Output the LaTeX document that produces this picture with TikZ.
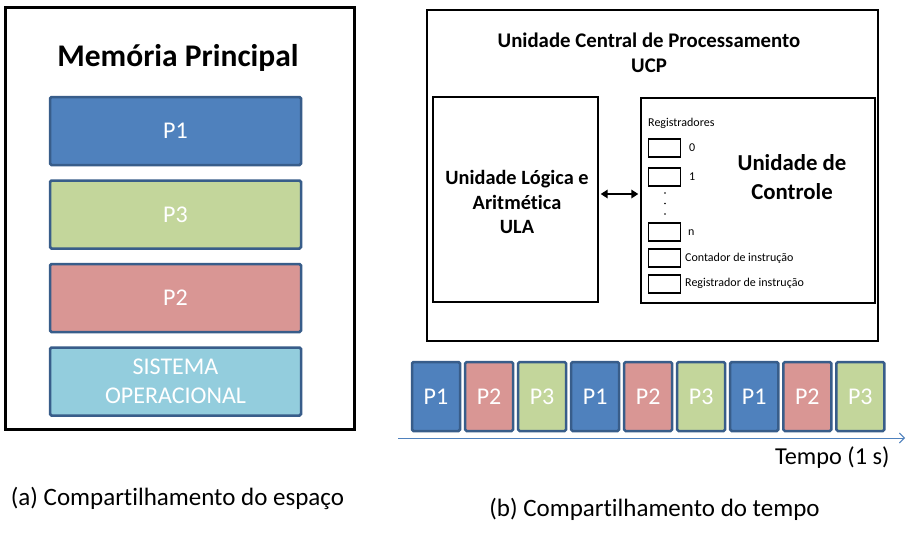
\documentclass[tikz,border=0pt]{standalone}
\usepackage{fontspec}
\setmainfont[Ligatures=NoCommon]{Carlito}
\usetikzlibrary{arrows.meta}
\definecolor{pborder}{HTML}{385D8A}
\definecolor{pone}{HTML}{4F81BD}
\definecolor{ptwo}{HTML}{D99694}
\definecolor{pthree}{HTML}{C3D69B}
\definecolor{psys}{HTML}{93CDDD}
\definecolor{axiscol}{HTML}{4F81BD}
\tikzset{
  fs/.style n args={2}{font=\fontsize{#1}{#2}\selectfont},
  fsb/.style n args={2}{font=\fontsize{#1}{#2}\selectfont\bfseries},
  memproc/.style={draw=pborder, line width=2.5pt, rounded corners=1.5pt, minimum width=251pt, minimum height=68pt, inner sep=0pt, text=white, fs={24}{29}, align=center},
  timeproc/.style={draw=pborder, line width=2.5pt, rounded corners=1.5pt, minimum width=48pt, minimum height=69pt, inner sep=0pt, text=white, fs={24}{29}},
  regbox/.style={draw=black, line width=1.1pt, minimum width=32pt, minimum height=18pt, inner sep=0pt, anchor=west},
  smalltxt/.style={fs={12}{14}, inner sep=0pt},
  cpubox/.style={draw=black, line width=1.4pt, inner sep=0pt},
}
\begin{document}
\begin{tikzpicture}[x=1pt,y=-1pt]
\useasboundingbox (0,0) rectangle (910,539);
\fill[white] (0,0) rectangle (910,539);

% (a) memory
\node[draw=black, line width=3pt, minimum width=349pt, minimum height=422pt, inner sep=0pt] (mem) at (179.5,218) {};
\node[fsb={31.5}{36}] (memtitle) at (178,58) {Memória Principal};
\node[memproc, fill=pone] (m1) at (175.5,131) {P1};
\node[memproc, fill=pthree] (m3) at (175.5,214.5) {P3};
\node[memproc, fill=ptwo] (m2) at (175.5,298) {P2};
\node[memproc, fill=psys] (mso) at (175.5,381.5) {SISTEMA\\OPERACIONAL};

% (b) CPU
\node[cpubox, minimum width=451pt, minimum height=331pt] (cpu) at (652.5,175.5) {};
\node[fsb={20.8}{25}, align=center] (cputitle) at (649,52.5) {Unidade Central de Processamento\\UCP};
\node[cpubox, minimum width=165pt, minimum height=205pt] (ula) at (515.5,199.5) {};
\node[fsb={20.3}{24.5}, align=center] (ulatxt) at (517,202) {Unidade Lógica e\\Aritmética\\ULA};
\node[cpubox, minimum width=234pt, minimum height=205pt] (uc) at (758,200.5) {};
\node[fsb={22.8}{29}, align=center] (uctxt) at (792,177.5) {Unidade de\\Controle};
\draw[line width=2pt, {Triangle[length=7pt,width=8.5pt]}-{Triangle[length=7pt,width=8.5pt]}, shorten <=2pt, shorten >=2pt]
  ([yshift=5.5pt]ula.east) -- ([yshift=6.5pt]uc.west);

\node[smalltxt, anchor=west] (regs) at (648,123) {Registradores};
\node[regbox] (r0) at (648,148) {};
\node[regbox] (r1) at (648,177) {};
\node[regbox] (rn) at (648,232) {};
\node[regbox] (rc) at (648,258) {};
\node[regbox] (ri) at (648,284) {};
\node[smalltxt, anchor=west] (l0) at (689,148) {0};
\node[smalltxt, anchor=west] (l1) at (689,177) {1};
\node[smalltxt, anchor=west] (ln) at (688,233) {n};
\node[smalltxt, anchor=west] (lc) at (685,258) {Contador de instrução};
\node[smalltxt, anchor=west] (li) at (685,283.5) {Registrador de instrução};
\fill (665,193) circle (0.8pt) (665,203.5) circle (0.8pt) (665,214) circle (0.8pt);

% timeline
\foreach \i/\lab/\col in {0/P1/pone,1/P2/ptwo,2/P3/pthree,3/P1/pone,4/P2/ptwo,5/P3/pthree,6/P1/pone,7/P2/ptwo,8/P3/pthree}{
  \node[timeproc, fill=\col] (t\i) at ({436+53.04*\i},396.5) {\lab};
}
\coordinate (ax0) at (398,438);
\coordinate (ax1) at (905,438);
\draw[axiscol, line width=0.9pt, -{Straight Barb[length=5pt,width=10pt]}] (ax0) -- (ax1);
\node[fs={24.3}{28}, anchor=east] (tempo) at (893,458) {Tempo (1 s)};

% captions
\node[fs={25}{30}] (capa) at (177.5,498) {(a) Compartilhamento do espaço};
\node[fs={25}{30}] (capb) at (654.5,509) {(b) Compartilhamento do tempo};
\end{tikzpicture}
\end{document}
